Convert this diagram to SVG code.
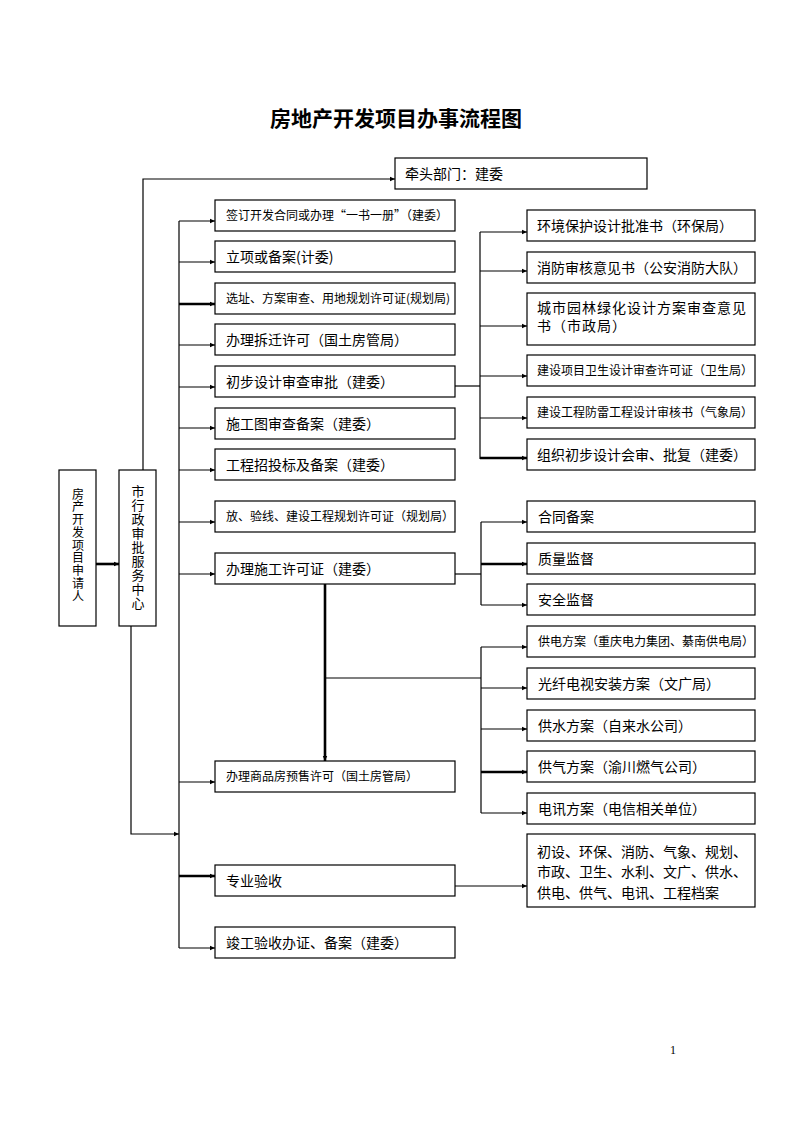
<svg xmlns="http://www.w3.org/2000/svg" width="794" height="1123" viewBox="0 0 794 1123">
<style>
.bx{fill:#fff;stroke:#000;stroke-width:1.2}
.t{font-family:"Noto Sans CJK SC","Noto Sans",sans-serif;font-size:14px;fill:#000}
.s{font-size:12px}
.v{writing-mode:vertical-rl;text-orientation:upright}
.c{fill:none;stroke:#000;stroke-width:1.2}
.k{stroke-width:2.6}
.title{font-family:"Noto Sans CJK SC","Noto Sans",sans-serif;font-size:21px;font-weight:bold;fill:#000}
</style>
<defs>
<marker id="ah" markerUnits="userSpaceOnUse" markerWidth="6" markerHeight="6" refX="5" refY="3" orient="auto">
<path d="M0,0.8 L5,3 L0,5.2 z" fill="#000"/>
</marker>
</defs>
<rect width="794" height="1123" fill="#fff"/>
<text class="title" x="396" y="126" text-anchor="middle">房地产开发项目办事流程图</text>

<g id="connectors">
<line class="c k" x1="96" y1="564" x2="119" y2="564" marker-end="url(#ah)"/>
<polyline class="c" points="143,470 143,179 395,179" marker-end="url(#ah)"/>
<polyline class="c" points="131,626 131,834 179,834" marker-end="url(#ah)"/>
<line class="c" x1="179" y1="221" x2="179" y2="948"/>
<line class="c" x1="179" y1="221" x2="215" y2="221" marker-end="url(#ah)"/>
<line class="c" x1="179" y1="262" x2="215" y2="262" marker-end="url(#ah)"/>
<line class="c k" x1="179" y1="304" x2="215" y2="304" marker-end="url(#ah)"/>
<line class="c" x1="179" y1="345" x2="215" y2="345" marker-end="url(#ah)"/>
<line class="c" x1="179" y1="387" x2="215" y2="387" marker-end="url(#ah)"/>
<line class="c" x1="179" y1="428" x2="215" y2="428" marker-end="url(#ah)"/>
<line class="c" x1="179" y1="470" x2="215" y2="470" marker-end="url(#ah)"/>
<line class="c" x1="179" y1="522" x2="215" y2="522" marker-end="url(#ah)"/>
<line class="c" x1="179" y1="574" x2="215" y2="574" marker-end="url(#ah)"/>
<line class="c" x1="179" y1="782" x2="215" y2="782" marker-end="url(#ah)"/>
<line class="c k" x1="179" y1="876" x2="215" y2="876" marker-end="url(#ah)"/>
<line class="c" x1="179" y1="948" x2="215" y2="948" marker-end="url(#ah)"/>

<line class="c" x1="455" y1="386" x2="480" y2="386"/>
<line class="c" x1="480" y1="232" x2="480" y2="459"/>
<line class="c" x1="480" y1="232" x2="527" y2="232" marker-end="url(#ah)"/>
<line class="c" x1="480" y1="271" x2="527" y2="271" marker-end="url(#ah)"/>
<line class="c" x1="480" y1="326" x2="527" y2="326" marker-end="url(#ah)"/>
<line class="c" x1="480" y1="376" x2="527" y2="376" marker-end="url(#ah)"/>
<line class="c" x1="480" y1="418" x2="527" y2="418" marker-end="url(#ah)"/>
<line class="c k" x1="480" y1="458" x2="527" y2="458" marker-end="url(#ah)"/>

<line class="c" x1="455" y1="574" x2="481" y2="574"/>
<line class="c" x1="481" y1="522" x2="481" y2="605"/>
<line class="c" x1="481" y1="522" x2="527" y2="522" marker-end="url(#ah)"/>
<line class="c k" x1="481" y1="564" x2="527" y2="564" marker-end="url(#ah)"/>
<line class="c" x1="481" y1="605" x2="527" y2="605" marker-end="url(#ah)"/>

<line class="c k" x1="325" y1="584" x2="325" y2="761" marker-end="url(#ah)"/>
<line class="c" x1="325" y1="678" x2="481" y2="678"/>
<line class="c" x1="481" y1="647" x2="481" y2="813"/>
<line class="c" x1="481" y1="647" x2="527" y2="647" marker-end="url(#ah)"/>
<line class="c" x1="481" y1="688" x2="527" y2="688" marker-end="url(#ah)"/>
<line class="c" x1="481" y1="729" x2="527" y2="729" marker-end="url(#ah)"/>
<line class="c k" x1="481" y1="772" x2="527" y2="772" marker-end="url(#ah)"/>
<line class="c" x1="481" y1="813" x2="527" y2="813" marker-end="url(#ah)"/>

<line class="c" x1="455" y1="886" x2="527" y2="886" marker-end="url(#ah)"/>
</g>

<g id="applicant">
<rect class="bx" x="59" y="470" width="37" height="156"/>
<text class="t v" x="78" y="488" style="font-size:12px" letter-spacing="0.75">房产开发项目申请人</text>
</g>
<g id="service-center">
<rect class="bx" x="119" y="470" width="37" height="156"/>
<text class="t v" x="138" y="484.5" style="font-size:13px" letter-spacing="1">市行政审批服务中心</text>
</g>
<g id="lead-dept">
<rect class="bx" x="395" y="158" width="252" height="31"/>
<text class="t" x="405" y="178.5">牵头部门：建委</text>
</g>

<g id="m1"><rect class="bx" x="215" y="200" width="240" height="31"/><text class="t s" x="226" y="220">签订开发合同或办理“一书一册”（建委）</text></g>
<g id="m2"><rect class="bx" x="215" y="241" width="240" height="31"/><text class="t" x="226" y="261.5">立项或备案(计委)</text></g>
<g id="m3"><rect class="bx" x="215" y="283" width="240" height="31"/><text class="t s" x="226" y="303">选址、方案审查、用地规划许可证(规划局)</text></g>
<g id="m4"><rect class="bx" x="215" y="324" width="240" height="31"/><text class="t" x="226" y="344.5">办理拆迁许可（国土房管局）</text></g>
<g id="m5"><rect class="bx" x="215" y="366" width="240" height="31"/><text class="t" x="226" y="386.5">初步设计审查审批（建委）</text></g>
<g id="m6"><rect class="bx" x="215" y="408" width="240" height="31"/><text class="t" x="226" y="428.5">施工图审查备案（建委）</text></g>
<g id="m7"><rect class="bx" x="215" y="449" width="240" height="31"/><text class="t" x="226" y="469.5">工程招投标及备案（建委）</text></g>
<g id="m8"><rect class="bx" x="215" y="501" width="240" height="31"/><text class="t s" x="226" y="521">放、验线、建设工程规划许可证（规划局）</text></g>
<g id="m9"><rect class="bx" x="215" y="553" width="240" height="31"/><text class="t" x="226" y="573.5">办理施工许可证（建委）</text></g>
<g id="m10"><rect class="bx" x="215" y="761" width="240" height="31"/><text class="t s" x="226" y="781">办理商品房预售许可（国土房管局）</text></g>
<g id="m11"><rect class="bx" x="215" y="865" width="240" height="31"/><text class="t" x="226" y="885.5">专业验收</text></g>
<g id="m12"><rect class="bx" x="215" y="927" width="240" height="31"/><text class="t" x="226" y="947.5">竣工验收办证、备案（建委）</text></g>

<g id="ra"><rect class="bx" x="527" y="210" width="228" height="31"/><text class="t" x="537" y="230.5">环境保护设计批准书（环保局）</text></g>
<g id="rb"><rect class="bx" x="527" y="252" width="228" height="31"/><text class="t" x="537" y="272.5">消防审核意见书（公安消防大队）</text></g>
<g id="rc"><rect class="bx" x="527" y="293" width="228" height="52"/><text class="t" x="537" y="313" letter-spacing="1">城市园林绿化设计方案审查意见</text><text class="t" x="537" y="331" letter-spacing="1">书（市政局）</text></g>
<g id="rd"><rect class="bx" x="527" y="355" width="228" height="31"/><text class="t s" x="537" y="375">建设项目卫生设计审查许可证（卫生局）</text></g>
<g id="re"><rect class="bx" x="527" y="397" width="228" height="31"/><text class="t s" x="537" y="417">建设工程防雷工程设计审核书（气象局）</text></g>
<g id="rf"><rect class="bx" x="527" y="439" width="228" height="31"/><text class="t" x="537" y="459.5">组织初步设计会审、批复（建委）</text></g>
<g id="rg"><rect class="bx" x="527" y="501" width="228" height="31"/><text class="t" x="538" y="521.5">合同备案</text></g>
<g id="rh"><rect class="bx" x="527" y="543" width="228" height="31"/><text class="t" x="538" y="563.5">质量监督</text></g>
<g id="ri"><rect class="bx" x="527" y="584" width="228" height="31"/><text class="t" x="538" y="604.5">安全监督</text></g>
<g id="rj"><rect class="bx" x="527" y="626" width="228" height="31"/><text class="t s" x="538" y="646">供电方案（重庆电力集团、綦南供电局）</text></g>
<g id="rk"><rect class="bx" x="527" y="668" width="228" height="31"/><text class="t" x="538" y="688.5">光纤电视安装方案（文广局）</text></g>
<g id="rl"><rect class="bx" x="527" y="710" width="228" height="31"/><text class="t" x="538" y="730.5">供水方案（自来水公司）</text></g>
<g id="rm"><rect class="bx" x="527" y="751" width="228" height="31"/><text class="t" x="538" y="771.5">供气方案（渝川燃气公司）</text></g>
<g id="rn"><rect class="bx" x="527" y="793" width="228" height="31"/><text class="t" x="538" y="813.5">电讯方案（电信相关单位）</text></g>
<g id="ro"><rect class="bx" x="527" y="834" width="228" height="73"/>
<text class="t" x="537" y="857">初设、环保、消防、气象、规划、</text>
<text class="t" x="537" y="877">市政、卫生、水利、文广、供水、</text>
<text class="t" x="537" y="898">供电、供气、电讯、工程档案</text></g>

<text x="670" y="1054" font-family="Liberation Serif, serif" font-size="12" fill="#000">1</text>
</svg>
